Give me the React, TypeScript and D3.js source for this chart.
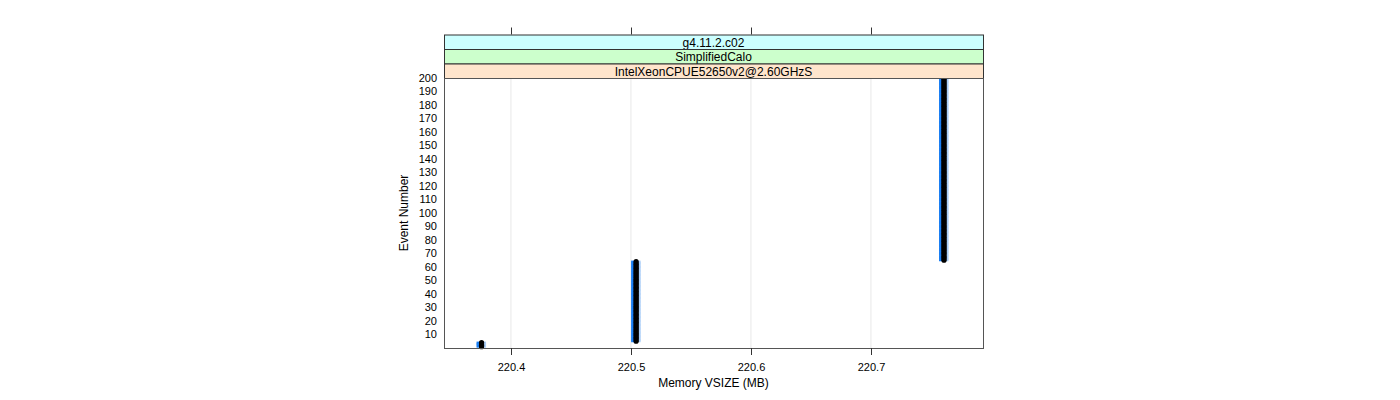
import { range, scaleLinear } from 'd3'

// memory level reached by each run of events
const memoryLevels = [220.3755, 220.5043, 220.7609]
const firstEvents = [1, 5, 65]
const lastEvents = [4, 64, 200]

const xTicks = [220.4, 220.5, 220.6, 220.7]
const yTicks = [10, 20, 30, 40, 50, 60, 70, 80, 90, 100, 110, 120, 130, 140, 150, 160, 170, 180, 190, 200]

const strips = [
  { label: 'g4.11.2.c02', fill: '#ccffff' },
  { label: 'SimplifiedCalo', fill: '#ccffcc' },
  { label: 'IntelXeonCPUE52650v2@2.60GHzS', fill: '#ffe5cc' },
]

const width = 1400
const height = 400
const panel = { left: 444, right: 983, top: 78, bottom: 348 }
const stripHeight = 14.5
const font = '"Liberation Sans", Arial, sans-serif'

function App() {
  const xScale = scaleLinear()
    .domain([220.3442, 220.7934])
    .range([panel.left, panel.right])

  const yScale = scaleLinear().domain([0, 200]).range([panel.bottom, panel.top])

  const points = memoryLevels.flatMap((mem, i) =>
    range(firstEvents[i], lastEvents[i] + 1).map((ev) => ({ mem, ev })),
  )

  const stripTop = panel.top - stripHeight * strips.length

  return (
    <svg
      width={width}
      height={height}
      style={{ position: 'absolute', left: 0, top: 0, background: '#fff' }}
      fontFamily={font}
    >
      {xTicks.map((tick) => (
        <line
          key={`grid-${tick}`}
          x1={xScale(tick)}
          x2={xScale(tick)}
          y1={panel.top}
          y2={panel.bottom}
          stroke="#e8e8e8"
          strokeWidth={1}
        />
      ))}

      {points.map((p) => (
        <rect
          key={`lb-${p.ev}`}
          x={xScale(p.mem) + 1}
          y={yScale(p.ev) - 1}
          width={3.5}
          height={2}
          fill="#a9cdf7"
        />
      ))}
      {points.map((p) => (
        <rect
          key={`b-${p.ev}`}
          x={xScale(p.mem) - 5}
          y={yScale(p.ev) - 1}
          width={5}
          height={2}
          fill="#1a7ef2"
        />
      ))}
      {points.map((p) => (
        <circle
          key={`k-${p.ev}`}
          cx={xScale(p.mem)}
          cy={yScale(p.ev)}
          r={2.6}
          fill="#000"
        />
      ))}

      {strips.map((s, i) => {
        const y = stripTop + i * stripHeight
        return (
          <g key={s.label}>
            <rect
              x={panel.left + 0.5}
              y={y + 0.5}
              width={panel.right - panel.left}
              height={stripHeight}
              fill={s.fill}
              stroke="#333"
              strokeWidth={1}
            />
            <text
              x={(panel.left + panel.right) / 2}
              y={y + stripHeight / 2 + 1}
              dy="0.35em"
              textAnchor="middle"
              fontSize={12}
              fill="#000"
            >
              {s.label}
            </text>
          </g>
        )
      })}

      <rect
        x={panel.left + 0.5}
        y={panel.top + 0.5}
        width={panel.right - panel.left}
        height={panel.bottom - panel.top}
        fill="none"
        stroke="#555"
        strokeWidth={1}
      />

      {xTicks.map((tick) => {
        const x = Math.round(xScale(tick)) + 0.5
        return (
          <g key={`tick-${tick}`}>
            <line x1={x} x2={x} y1={stripTop - 7} y2={stripTop} stroke="#333" />
            <line x1={x} x2={x} y1={panel.bottom} y2={panel.bottom + 7} stroke="#333" />
            <text
              x={x}
              y={panel.bottom + 19}
              dy="0.35em"
              textAnchor="middle"
              fontSize={11}
              fill="#000"
            >
              {tick.toFixed(1)}
            </text>
          </g>
        )
      })}

      {yTicks.map((tick) => (
        <text
          key={`y-${tick}`}
          x={437}
          y={yScale(tick)}
          dy="0.35em"
          textAnchor="end"
          fontSize={11}
          fill="#000"
        >
          {tick}
        </text>
      ))}

      <text
        x={(panel.left + panel.right) / 2}
        y={383}
        dy="0.35em"
        textAnchor="middle"
        fontSize={12}
        fill="#000"
      >
        Memory VSIZE (MB)
      </text>
      <text
        transform={`translate(404, ${(panel.top + panel.bottom) / 2}) rotate(-90)`}
        dy="0.35em"
        textAnchor="middle"
        fontSize={12}
        fill="#000"
      >
        Event Number
      </text>
    </svg>
  )
}

export default App
